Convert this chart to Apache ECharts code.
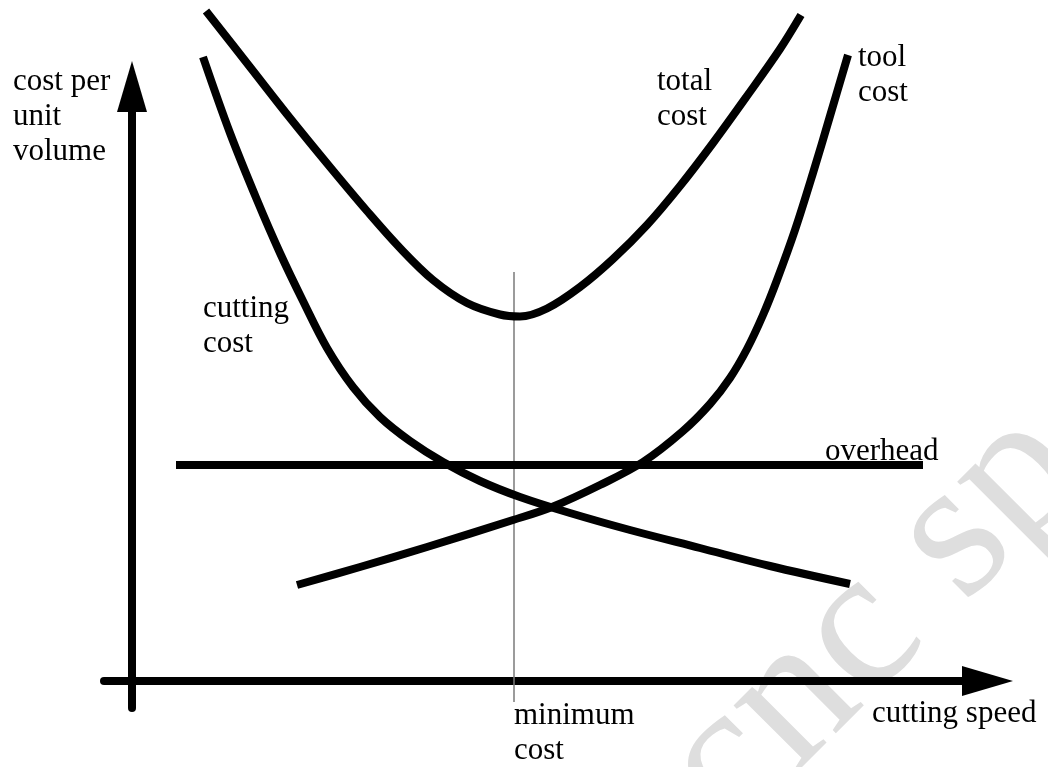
<!DOCTYPE html>
<html>
<head>
<meta charset="utf-8">
<script src="https://cdn.jsdelivr.net/npm/echarts@6/dist/echarts.min.js"></script>
<style>
html,body{margin:0;padding:0;background:#fff;}
#chart{width:1048px;height:767px;}
</style>
</head>
<body>
<div id="chart"></div>
<script>
// Schematic values (arbitrary units): [cutting speed, cost per unit volume]
const totalCost = [[7.4,67.0],[11.8,61.4],[15.8,56.3],[19.8,51.4],[23.5,47.0],[26.8,43.3],[30.1,40.1],[33.5,37.8],[36.8,36.65],[38.8,36.45],[41.5,37.25],[44.8,39.4],[48.1,42.2],[51.5,45.6],[54.8,49.5],[58.1,53.8],[61.5,58.5],[64.8,63.2],[66.9,66.6]];
const cuttingCost = [[7.1,62.4],[9.8,54.8],[12.5,48.1],[14.8,42.8],[17.1,38.0],[19.5,33.3],[22.1,29.4],[24.8,26.4],[27.8,24.0],[31.1,21.9],[34.8,20.0],[38.8,18.4],[43.8,16.8],[49.8,15.1],[56.8,13.3],[63.8,11.5],[71.8,9.7]];
const toolCost = [[16.5,9.6],[22.8,11.4],[29.5,13.4],[38.1,16.1],[42.0,17.4],[46.8,19.6],[51.1,21.9],[55.1,25.0],[57.8,27.7],[59.8,30.3],[61.5,33.2],[63.1,36.6],[64.5,40.1],[66.3,45.1],[68.1,50.8],[69.8,56.5],[71.6,62.6]];
const overhead = [[4.4,21.6],[79.1,21.6]];
const minimumCost = [[38.2,40.9],[38.2,-2.1]];

const xRange = [-2.8, 85.55];
const yRange = [-2.7, 59.45];

const FONT = '"Liberation Serif", "DejaVu Serif", serif';
function label(text, x, top) {
  return {
    type: 'text', x: x, y: top, z: 10,
    style: { text: text, font: '31px ' + FONT, fill: '#000', lineHeight: 35, align: 'left', verticalAlign: 'top' }
  };
}

const chart = echarts.init(document.getElementById('chart'), null, {renderer: 'canvas'});
const curveStyle = { color: '#000', width: 8, cap: 'butt', join: 'round' };
chart.setOption({
  animation: false,
  backgroundColor: '#fff',
  grid: { left: 104, right: 60.5, top: 86.5, bottom: 59 },
  xAxis: {
    type: 'value', min: xRange[0], max: xRange[1],
    axisLine: { show: true, onZero: true, symbol: ['none', 'triangle'], symbolSize: [30, 51], lineStyle: { color: '#000', width: 8 } },
    axisTick: { show: false }, axisLabel: { show: false }, splitLine: { show: false }
  },
  yAxis: {
    type: 'value', min: yRange[0], max: yRange[1],
    axisLine: { show: true, onZero: true, symbol: ['none', 'triangle'], symbolSize: [30, 51], lineStyle: { color: '#000', width: 8 } },
    axisTick: { show: false }, axisLabel: { show: false }, splitLine: { show: false }
  },
  series: [
    { name: 'total cost', type: 'line', data: totalCost, smooth: 0.35, showSymbol: false, clip: false, lineStyle: curveStyle },
    { name: 'cutting cost', type: 'line', data: cuttingCost, smooth: 0.35, showSymbol: false, clip: false, lineStyle: curveStyle },
    { name: 'tool cost', type: 'line', data: toolCost, smooth: 0.35, showSymbol: false, clip: false, lineStyle: curveStyle },
    { name: 'overhead', type: 'line', data: overhead, showSymbol: false, clip: false, lineStyle: curveStyle },
    { name: 'minimum cost', type: 'line', data: minimumCost, showSymbol: false, clip: false, z: 1, lineStyle: { color: '#7a7a7a', width: 1.5 } }
  ],
  graphic: [
    { type: 'text', x: 766, y: 870, rotation: Math.PI / 4, z: -10,
      style: { text: 'cnc sp', font: '200px ' + FONT, fill: '#dedede', align: 'left', verticalAlign: 'bottom' } },
    label('cost per\nunit\nvolume', 13, 64),
    label('total\ncost', 657, 64),
    label('tool\ncost', 858, 40),
    label('cutting\ncost', 203, 291),
    label('overhead', 825, 434),
    label('minimum\ncost', 514, 698),
    label('cutting speed', 872, 696)
  ]
});
</script>
</body>
</html>
